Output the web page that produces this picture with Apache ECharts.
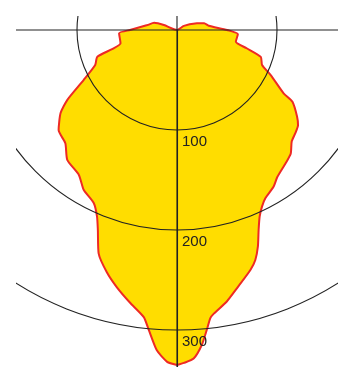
<!DOCTYPE html>
<html>
<head>
<meta charset="utf-8">
<script src="https://cdn.jsdelivr.net/npm/echarts@6/dist/echarts.min.js"></script>
<style>
  html, body { margin: 0; padding: 0; background: #fff; width: 338px; height: 367px; overflow: hidden; }
  #chart { position: absolute; left: 16px; top: 16px; width: 322px; height: 351px; }
</style>
</head>
<body>
<div id="chart"></div>
<script>
// Luminous intensity distribution (cd), angle measured from nadir.
// Right half: angle (deg) increasing towards the right-hand side.
const rightAngles = [0, 1.2, 2.9, 4.5, 5.7, 6.6, 7.4, 10.4, 13.1, 17.0, 18.8, 20.5, 22.2, 23.9, 25.7, 27.7, 31.7, 34.3, 39.1, 42.6, 45.8, 48.9, 51.8, 54.2, 58.1, 59.3, 64.3, 67.6, 72.2, 75.3, 78.8, 86.0, 90, 97.7, 104.1, 108.5, 120.8, 180];
const rightValues = [335, 333, 329, 316, 301, 290, 286, 276, 265, 251, 243, 231, 216, 204, 196, 190, 184, 178, 172, 168, 160, 157, 154, 148, 136, 124, 104, 92, 88, 72, 60, 61, 50, 32, 28, 21, 8, 0];
// Left half: angle (deg) from nadir towards the left-hand side.
const leftAngles = [110.6, 107.4, 99.5, 90, 86.8, 76.8, 71.5, 66.8, 61.8, 57.5, 54.5, 49.8, 44.6, 40.2, 34.1, 30.3, 25.7, 23.2, 21.6, 19.3, 16.2, 13.2, 9.7, 6.6, 5.4, 3.6, 1.7, 0];
const leftValues = [14, 24, 30, 47, 58, 58, 84, 89, 106, 130, 143, 155, 159, 170, 175, 185, 192, 203, 215, 237, 252, 264, 277, 289, 301, 321, 332, 335];
const radiusTicks = [100, 200, 300];

const curve = [];
rightAngles.forEach((a, i) => curve.push([rightValues[i], a]));
leftAngles.forEach((a, i) => curve.push([leftValues[i], 360 - a]));

const chart = echarts.init(document.getElementById('chart'), null, { renderer: 'canvas' });
chart.setOption({
  animation: false,
  polar: { center: [161, 14], radius: 400 },
  angleAxis: {
    type: 'value', min: 0, max: 360, interval: 90,
    startAngle: 270, clockwise: false, z: 10,
    axisLine: { show: false }, axisTick: { show: false }, axisLabel: { show: false },
    splitLine: { show: true, lineStyle: { color: '#222', width: 1.1 } }
  },
  radiusAxis: {
    type: 'value', min: 0, max: 400, interval: 100, z: 10,
    axisLine: { show: true, lineStyle: { color: '#222', width: 1.1 } },
    axisTick: { show: false },
    axisLabel: {
      show: true, color: '#222', fontSize: 15, fontFamily: 'Liberation Sans, Arial, sans-serif',
      formatter: v => radiusTicks.indexOf(v) >= 0 ? String(v) : '',
      align: 'left', verticalAlign: 'top', margin: 5, padding: [4, 0, 0, 0]
    },
    splitLine: { show: true, lineStyle: { color: '#222', width: 1.1 } }
  },
  series: [{
    type: 'line', coordinateSystem: 'polar', data: curve,
    symbol: 'none', smooth: 0.2, z: 1,
    lineStyle: { color: '#ee2a24', width: 2 },
    areaStyle: { color: '#ffdd00', opacity: 1 }
  }]
});
</script>
</body>
</html>
